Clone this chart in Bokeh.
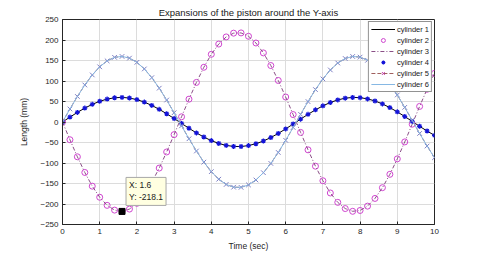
from bokeh.plotting import figure
from bokeh.models import Range1d, FixedTicker, Legend, LegendItem, Label
from bokeh.embed import file_html
from bokeh.resources import INLINE

time_s = [0.0, 0.2, 0.4, 0.6, 0.8, 1.0, 1.2, 1.4, 1.6, 1.8, 2.0, 2.2, 2.4, 2.6, 2.8,
          3.0, 3.2, 3.4, 3.6, 3.8, 4.0, 4.2, 4.4, 4.6, 4.8, 5.0, 5.2, 5.4, 5.6, 5.8,
          6.0, 6.2, 6.4, 6.6, 6.8, 7.0, 7.2, 7.4, 7.6, 7.8, 8.0, 8.2, 8.4, 8.6, 8.8,
          9.0, 9.2, 9.4, 9.6, 9.8, 10.0]

cyl4 = [0, 11.9, 23.4, 33.9, 43.0, 50.5, 55.9, 59.1, 60.0, 58.4, 54.6, 48.5, 40.5, 30.9, 20.1,
        8.5, -3.5, -15.3, -26.6, -36.7, -45.4, -52.3, -57.1, -59.6, -59.8, -57.5, -53.0, -46.4,
        -37.9, -27.9, -16.8, -5.0, 7.0, 18.7, 29.6, 39.4, 47.6, 53.9, 58.1, 59.9, 59.4, 56.4,
        51.3, 44.1, 35.1, 24.7, 13.4, 1.5, -10.5, -22.0, -32.6]
cyl1 = list(cyl4)

cyl2 = [0, -43.3, -84.9, -123.1, -156.5, -183.5, -203.3, -214.9, -218.1, -212.4, -198.3, -176.3,
        -147.3, -112.4, -73.1, -30.8, 12.7, 55.7, 96.5, 133.5, 165.1, 190.1, 207.5, 216.7, 217.3,
        209.1, 192.7, 168.5, 137.7, 101.3, 60.9, 18.1, -25.4, -67.9, -107.8, -143.3, -173.1,
        -196.0, -211.1, -217.8, -215.8, -205.2, -186.4, -160.2, -127.6, -89.9, -48.6, -5.4,
        38.0, 79.9, 118.6]
cyl3 = list(cyl2)

cyl5 = [0, 31.8, 62.3, 90.3, 114.8, 134.6, 149.1, 157.7, 159.9, 155.8, 145.5, 129.4, 108.1, 82.5,
        53.6, 22.6, -9.3, -40.9, -70.8, -97.9, -121.1, -139.5, -152.3, -159.0, -159.4, -153.4,
        -141.4, -123.6, -101.0, -74.3, -44.7, -13.3, 18.6, 49.8, 79.1, 105.1, 127.0, 143.8,
        154.9, 159.8, 158.3, 150.5, 136.7, 117.5, 93.6, 65.9, 35.7, 4.0, -27.9, -58.6, -87.0]
cyl6 = list(cyl5)

legend_labels = ["cylinder 1", "cylinder 2", "cylinder 3", "cylinder 4", "cylinder 5", "cylinder 6"]
x_ticks = [0, 1, 2, 3, 4, 5, 6, 7, 8, 9, 10]
y_ticks = [-250, -200, -150, -100, -50, 0, 50, 100, 150, 200, 250]
tip_x = [1.6]
tip_y = [-218.1]

FONT = "Liberation Sans"
AX = "#262626"

p = figure(width=480, height=253, output_backend="svg", toolbar_location=None,
           x_range=Range1d(0, 10), y_range=Range1d(-250, 250),
           min_border_left=62, min_border_right=46, min_border_top=19, min_border_bottom=27)

p.title.text = "Expansions of the piston around the Y-axis"
p.title.align = "center"
p.title.text_font = FONT
p.title.text_font_size = "9.5px"
p.title.text_font_style = "normal"
p.title.text_color = "#1a1a1a"
p.title.offset = 0
p.title.standoff = 3

p.outline_line_color = AX
p.outline_line_width = 1
p.outline_line_alpha = 1

for ax in (p.xaxis, p.yaxis):
    ax.major_label_text_font = FONT
    ax.major_label_text_font_size = "8px"
    ax.major_label_text_color = AX
    ax.axis_label_text_font = FONT
    ax.axis_label_text_font_size = "8.5px"
    ax.axis_label_text_font_style = "normal"
    ax.axis_label_text_color = AX
    ax.axis_line_color = AX
    ax.major_tick_line_color = AX
    ax.major_tick_in = 3
    ax.major_tick_out = 0
    ax.minor_tick_line_color = None

p.xaxis.ticker = FixedTicker(ticks=x_ticks)
p.yaxis.ticker = FixedTicker(ticks=y_ticks)
p.xaxis.axis_label = "Time (sec)"
p.yaxis.axis_label = "Length (mm)"
p.xaxis.major_label_standoff = 4
p.yaxis.major_label_standoff = 4
p.xaxis.axis_label_standoff = 4
p.yaxis.axis_label_standoff = 8

p.xgrid.ticker = FixedTicker(ticks=x_ticks)
p.ygrid.ticker = FixedTicker(ticks=y_ticks)
p.grid.grid_line_color = "#dcdcdc"
p.grid.grid_line_width = 1

r1 = p.line(time_s, cyl1, line_color="black", line_width=1)
r2 = p.scatter(time_s, cyl2, marker="circle", size=6, fill_color=None,
               line_color="#d046d0", line_width=1)
r3 = p.line(time_s, cyl3, line_color="#8a4f86", line_width=1, line_dash="4 2 1 2")
r4 = p.scatter(time_s, cyl4, marker="asterisk", size=5, line_color="#1414d8", line_width=1.2)
r5l = p.line(time_s, cyl5, line_color="#a0605e", line_width=1, line_dash="4 2")
r5m = p.scatter(time_s, cyl5, marker="x", size=6.5, line_color="#7e7ec4", line_width=1)
r6 = p.line(time_s, cyl6, line_color="#86b8e4", line_width=1)

r5leg = p.scatter(time_s[:1], cyl5[:1], marker="x", size=6, line_color="#c03aa8", line_width=1,
                  visible=False)

p.scatter(tip_x, tip_y, marker="square", size=6, fill_color="black", line_color="black")
tip = Label(x=tip_x[0], y=tip_y[0], x_offset=4, y_offset=6,
            text="X: %.1f\nY: %.1f" % (tip_x[0], tip_y[0]),
            text_font=FONT, text_font_size="8.5px", text_color="#1a1a1a",
            anchor="bottom_left", text_align="left", text_baseline="bottom",
            background_fill_color="#ffffe1", background_fill_alpha=1,
            border_line_color="#a8a8a8", border_line_width=1, padding=3)
p.add_layout(tip)

legend = Legend(items=[
    LegendItem(label=legend_labels[0], renderers=[r1]),
    LegendItem(label=legend_labels[1], renderers=[r2]),
    LegendItem(label=legend_labels[2], renderers=[r3]),
    LegendItem(label=legend_labels[3], renderers=[r4]),
    LegendItem(label=legend_labels[4], renderers=[r5l, r5leg]),
    LegendItem(label=legend_labels[5], renderers=[r6]),
], location="top_right")
legend.label_text_font = FONT
legend.label_text_font_size = "7.5px"
legend.label_text_color = "#1a1a1a"
legend.glyph_width = 24
legend.glyph_height = 10
legend.label_height = 10
legend.label_standoff = 2
legend.spacing = 1
legend.padding = 2
legend.margin = 2
legend.border_line_color = AX
legend.border_line_width = 1
legend.background_fill_color = "white"
legend.background_fill_alpha = 1
p.add_layout(legend)

open("out.html", "w").write(file_html(p, INLINE))
